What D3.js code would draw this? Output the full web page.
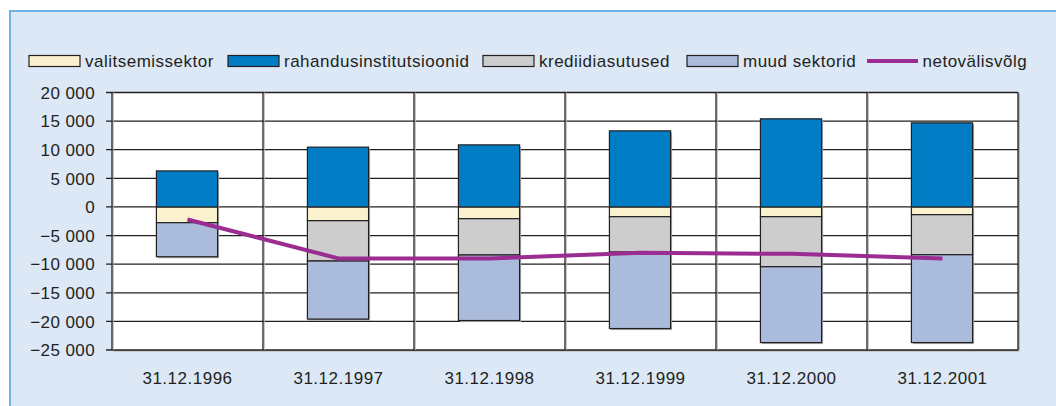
<!DOCTYPE html>
<html><head><meta charset="utf-8">
<script src="https://cdn.jsdelivr.net/npm/d3@7"></script>
<style>
html,body{margin:0;padding:0;background:#fff;}
svg{display:block;font-family:"Liberation Sans",Arial,sans-serif;}
</style></head>
<body><svg id="c" width="1056" height="406"></svg>
<script>
const categories = ["31.12.1996","31.12.1997","31.12.1998","31.12.1999","31.12.2000","31.12.2001"];
const valitsemissektor = [-2750,-2400,-2050,-1700,-1700,-1350];
const rahandusinstitutsioonid = [6300,10450,10850,13300,15400,14700];
const krediidiasutused = [0,-7050,-6350,-6200,-8750,-7000];
const muudSektorid = [-5950,-10150,-11450,-13350,-13250,-15350];
const netovalisvolg = [-2200,-9000,-9000,-8000,-8200,-9000];
const yTicks = [20000,15000,10000,5000,0,-5000,-10000,-15000,-20000,-25000];
const seriesNames = ["valitsemissektor","rahandusinstitutsioonid","krediidiasutused","muud sektorid"];
const lineName = "netovälisvõlg";
const colors = ["#faf1cf","#007dc5","#cdcdcd","#abbbdc"];
const lineColor = "#9a2c92";
const ink = "#231f20";

const svg = d3.select("#c");
// panel
svg.append("rect").attr("x",10).attr("y",11).attr("width",1046).attr("height",395).attr("fill","#dce8f6");
svg.append("line").attr("x1",9).attr("x2",1056).attr("y1",11).attr("y2",11).attr("stroke","#6eb3e5").attr("stroke-width",2);
svg.append("line").attr("x1",10).attr("x2",10).attr("y1",10).attr("y2",406).attr("stroke","#6eb3e5").attr("stroke-width",2);

const L=112,R=1018,T=92.5,B=350;
const x = d3.scaleBand().domain(categories).range([L,R]).padding(0);
const y = d3.scaleLinear().domain([-25000,20000]).range([B,T]);
const bw = x.bandwidth()*0.405;

// plot background
svg.append("rect").attr("x",L+1.5).attr("y",T+1.5).attr("width",R-L).attr("height",B-T).attr("fill","#a9a9a9");
svg.append("rect").attr("x",L).attr("y",T).attr("width",R-L).attr("height",B-T).attr("fill","#fff");

// grid horizontal
const g = svg.append("g");
g.selectAll("line.h").data(yTicks).join("line")
  .attr("x1",L-6).attr("x2",R).attr("y1",d=>y(d)).attr("y2",d=>y(d))
  .attr("stroke",ink).attr("stroke-width",1.3);
// vertical boundaries
const bounds = categories.map(c=>x(c)).concat([R]);
g.selectAll("line.vs").data(bounds).join("line")
  .attr("x1",d=>d+1.3).attr("x2",d=>d+1.3).attr("y1",T).attr("y2",B)
  .attr("stroke","#b8b8b8").attr("stroke-width",1);
g.selectAll("line.v").data(bounds).join("line")
  .attr("x1",d=>d).attr("x2",d=>d).attr("y1",T).attr("y2",B)
  .attr("stroke",ink).attr("stroke-width",1.3);

// stacked data
const rows = categories.map((c,i)=>({cat:c, k0:valitsemissektor[i], k1:rahandusinstitutsioonid[i], k2:krediidiasutused[i], k3:muudSektorid[i]}));
const stack = d3.stack().keys(["k0","k1","k2","k3"]).offset(d3.stackOffsetDiverging);
const layers = stack(rows);

// shadows
layers.forEach((layer,li)=>{
  svg.append("g").selectAll("rect").data(layer.filter(d=>d[1]!==d[0])).join("rect")
    .attr("x",d=>x(d.data.cat)+x.bandwidth()/2-bw/2-0.5+1.5)
    .attr("y",d=>y(Math.max(d[0],d[1]))+1.5)
    .attr("width",bw).attr("height",d=>Math.abs(y(d[0])-y(d[1])))
    .attr("fill","#a8a8a8");
});
layers.forEach((layer,li)=>{
  svg.append("g").selectAll("rect").data(layer.filter(d=>d[1]!==d[0])).join("rect")
    .attr("x",d=>x(d.data.cat)+x.bandwidth()/2-bw/2-0.5)
    .attr("y",d=>y(Math.max(d[0],d[1])))
    .attr("width",bw).attr("height",d=>Math.abs(y(d[0])-y(d[1])))
    .attr("fill",colors[li]).attr("stroke",ink).attr("stroke-width",1.2);
});

// line
const line = d3.line().x((d,i)=>x(categories[i])+x.bandwidth()/2).y(d=>y(d));
svg.append("path").datum(netovalisvolg).attr("d",line).attr("fill","none")
  .attr("stroke",lineColor).attr("stroke-width",4);

// y labels
svg.append("g").selectAll("text").data(yTicks).join("text")
  .attr("x",95).attr("y",d=>y(d)+6.2).attr("text-anchor","end")
  .attr("font-size",17).attr("letter-spacing",0.4).attr("fill",ink)
  .text(d=>d3.format(",")(d).replace(/,/g," "));
// x labels
svg.append("g").selectAll("text").data(categories).join("text")
  .attr("x",d=>x(d)+x.bandwidth()/2).attr("y",384.3).attr("text-anchor","middle")
  .attr("font-size",17).attr("letter-spacing",0.5).attr("fill",ink).text(d=>d);

// legend
const legX=[29,228,483,687];
const lg = svg.append("g");
seriesNames.forEach((n,i)=>{
  lg.append("rect").attr("x",legX[i]).attr("y",55.5).attr("width",51).attr("height",11)
    .attr("fill",colors[i]).attr("stroke",ink).attr("stroke-width",1.2);
  lg.append("text").attr("x",legX[i]+56).attr("y",67.3).attr("font-size",17).attr("letter-spacing",0.5)
    .attr("fill",ink).text(n);
});
lg.append("line").attr("x1",867).attr("x2",918).attr("y1",61).attr("y2",61).attr("stroke",lineColor).attr("stroke-width",4);
lg.append("text").attr("x",922.5).attr("y",67.3).attr("font-size",17).attr("letter-spacing",0.5).attr("fill",ink).text(lineName);
</script></body></html>
